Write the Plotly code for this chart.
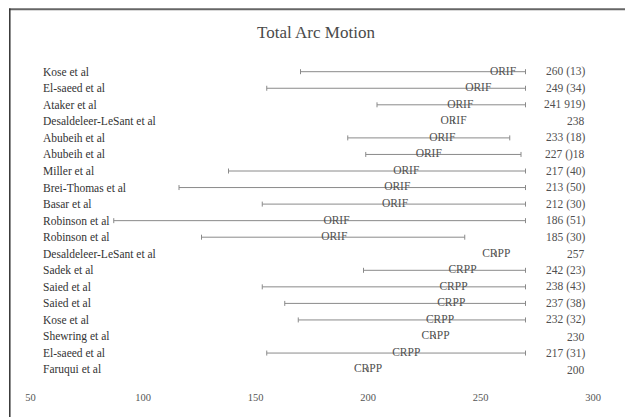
import plotly.graph_objects as go

# ---- data ----
studies = ["Kose et al", "El-saeed et al", "Ataker et al", "Desaldeleer-LeSant et al",
           "Abubeih et al", "Abubeih et al", "Miller et al", "Brei-Thomas et al",
           "Basar et al", "Robinson et al", "Robinson et al", "Desaldeleer-LeSant et al",
           "Sadek et al", "Saied et al", "Saied et al", "Kose et al", "Shewring et al",
           "El-saeed et al", "Faruqui et al"]
groups = ["ORIF"] * 11 + ["CRPP"] * 8
means = [260, 249, 241, 238, 233, 227, 217, 213, 212, 186, 185,
         257, 242, 238, 237, 232, 230, 217, 200]
lows = [170, 155, 204, None, 191, 199, 138, 116, 153, 87, 126,
        None, 198, 153, 163, 169, None, 155, None]
highs = [270, 270, 270, None, 263, 268, 270, 270, 270, 270, 243,
         None, 270, 270, 270, 270, None, 270, None]
value_labels = ["260 (13)", "249 (34)", "241 919)", "238", "233 (18)", "227 ()18",
                "217 (40)", "213 (50)", "212 (30)", "186 (51)", "185 (30)", "257",
                "242 (23)", "238 (43)", "237 (38)", "232 (32)", "230", "217 (31)", "200"]
tick_values = [50, 100, 150, 200, 250, 300]
tick_labels = ["50", "100", "150", "200", "250", "300"]
title_text = "Total Arc Motion"

# ---- layout geometry (page pixels; the page body adds an 8px offset) ----
OFF = 8
PAGE_W, PAGE_H = 633, 417
W, H = PAGE_W - OFF, PAGE_H - OFF
PL, PR, PT, PB = 12, 620, 55, 389          # plot area in page pixels
ML, MR, MT, MB = PL - OFF, PAGE_W - PR, PT - OFF, PAGE_H - PB
PW, PH = PR - PL, PB - PT
row_px = 16.55
first_row_px = 71.7
n = len(studies)
y0 = -(first_row_px - PT) / row_px
y1 = y0 + PH / row_px
px_per_unit = 2.25
x_at_200 = 368

def gx(px):
    return (px - PL) / PW

def gy(py):
    return (PB - py) / PH

rows = list(range(n))
plus = [(h - m) if h is not None else float("nan") for h, m in zip(highs, means)]
minus = [(m - l) if l is not None else float("nan") for l, m in zip(lows, means)]

serif = "Liberation Serif, Times New Roman, serif"

fig = go.Figure()
fig.add_trace(go.Scatter(
    x=means, y=rows, mode="text", text=groups,
    textposition="middle center",
    textfont=dict(family=serif, size=11.5, color="#505050"),
    error_x=dict(type="data", symmetric=False, array=plus, arrayminus=minus,
                 color="#8a8a8a", thickness=1, width=2.5),
    showlegend=False, hoverinfo="skip",
))

annotations = []
for i, name in enumerate(studies):
    annotations.append(dict(xref="paper", yref="y", x=gx(41), y=i,
                            text=name, showarrow=False, xanchor="left", yanchor="middle",
                            font=dict(family=serif, size=11.5, color="#333333")))
    annotations.append(dict(xref="paper", yref="y", x=gx(587), y=i,
                            text=value_labels[i], showarrow=False, xanchor="right",
                            yanchor="middle",
                            font=dict(family=serif, size=11.5, color="#505050")))

shapes = [
    dict(type="line", xref="paper", yref="paper",
         x0=gx(9), x1=gx(PAGE_W), y0=gy(9.2), y1=gy(9.2),
         line=dict(color="#666666", width=2)),
    dict(type="line", xref="paper", yref="paper",
         x0=gx(9.8), x1=gx(9.8), y0=gy(8.5), y1=gy(PAGE_H),
         line=dict(color="#333333", width=1.5)),
]

fig.update_layout(
    width=W, height=H,
    margin=dict(l=ML, r=MR, t=MT, b=MB),
    paper_bgcolor="white", plot_bgcolor="white",
    title=dict(text=title_text, x=(316 - OFF) / W, xanchor="center",
               y=1 - (32 - OFF) / H, yanchor="middle",
               font=dict(family=serif, size=17, color="#4a4a4a")),
    xaxis=dict(range=[200 - (x_at_200 - PL) / px_per_unit, 200 + (PR - x_at_200) / px_per_unit],
               tickvals=tick_values, ticktext=tick_labels,
               showgrid=False, zeroline=False, showline=False, ticks="",
               tickfont=dict(family=serif, size=10.5, color="#555555")),
    yaxis=dict(range=[y1, y0], visible=False),
    annotations=annotations, shapes=shapes,
)

fig.write_html("out.html")
